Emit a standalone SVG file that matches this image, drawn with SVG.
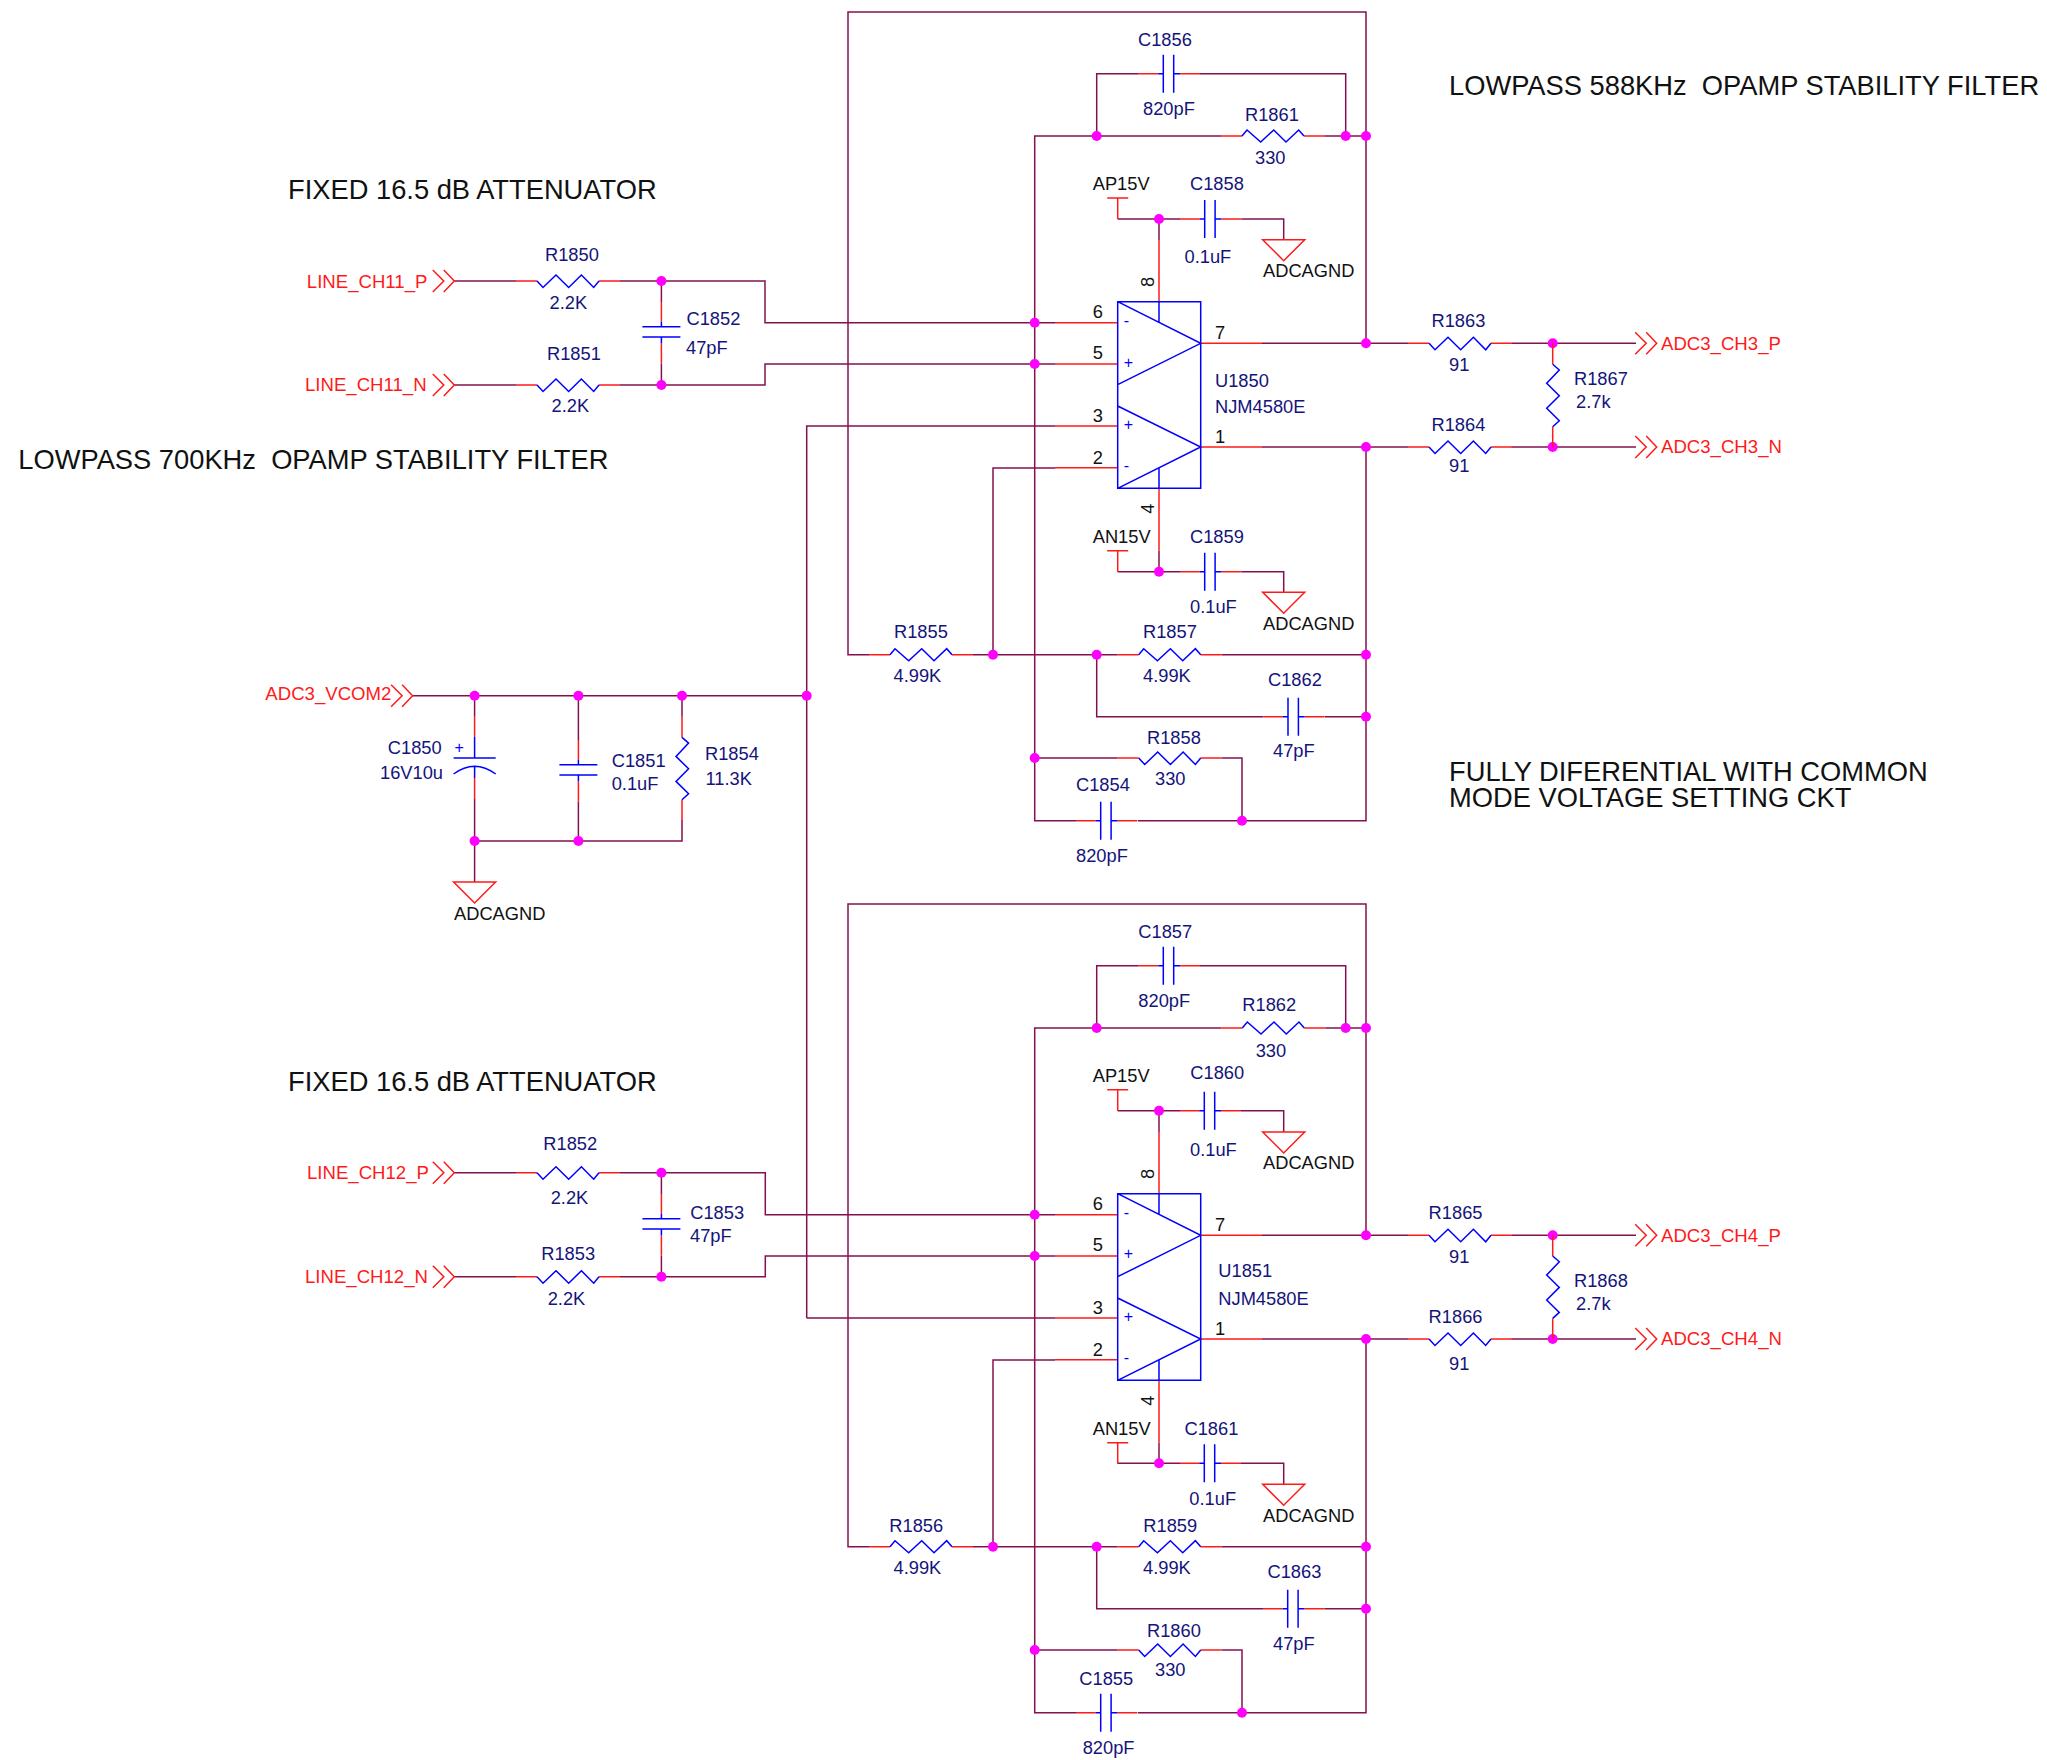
<svg xmlns="http://www.w3.org/2000/svg" xmlns:xlink="http://www.w3.org/1999/xlink" width="2047" height="1760" viewBox="0 0 2047 1760">
<style>
text{font-family:"Liberation Sans",Arial,sans-serif;font-size:18.3px}
.v{fill:#14147a}.k{fill:#111}.n{fill:#ff1a1a;font-size:18.6px}
.t{fill:#111;font-size:27.3px;white-space:pre}
.s{fill:#0000ff;font-size:16px}
.w,.p,.b,.rb{fill:none;stroke-width:1.5}
.w{stroke:#85104f}.p{stroke:#ff1a1a}.b{stroke:#0000ff}
.j{fill:#ff00ff}
</style>
<defs>
<g id="ru"><path class="p" d="M-21 0H0M62 0H83"/><path class="b" d="M0 0L5 -6L18.7 6L31.7 -6L44 6L56.7 -6L62 0"/></g>
<g id="rd"><path class="p" d="M-21 0H0M62 0H83"/><path class="b" d="M0 0L6 6.5L19 -6L31.7 6.5L44.4 -6L56.7 6.5L62 0"/></g>
<g id="rv"><path class="p" d="M0 -21V0M0 62.4V83"/><path class="b" d="M0 0L6.6 5.7L-6 19L6.6 31.4L-6 44L6.6 56.4L0 62.4"/></g>
<g id="ch"><path class="p" d="M-24.7 0H-5M16.7 0H36.7"/><path class="b" d="M-5 0H0M0 -19V19M10.4 -19V19M10.4 0H16.7"/></g>
<g id="cv"><path class="p" d="M0 -24.7V-5M0 16.7V36.7"/><path class="b" d="M0 -5V0M-19 0H19M-19 10.4H19M0 10.4V16.7"/></g>
<path id="gnd" class="p" d="M-21 0H21L0 21Z"/>
<path id="port" class="p" d="M-21.5 -11L-10.5 0L-21.5 11M-10.5 -11L0 0L-10.5 11"/>
<g id="opa">
<path class="p" d="M-62.7 21H0M-62.7 62.3H0M-62.7 124.3H0M-62.7 166H0M83 41.6H144.3M83 145.3H144.3M41.3 0V-61.7M41.3 186.6V249"/>
<path class="b" d="M0 0H83V186.6H0ZM0 0L83 41.6L0 83M0 104.3L83 145.3L0 186.6M41.3 0V21M41.3 166V186.6"/>
</g>
<path id="pwr" class="p" d="M-10.5 0H10.5M0 0V21"/>
</defs>

<g id="connectors">
<path class="w" d="M869 654.7H848V12H1366V343.3M973 654.7H1117.7M993 654.7V468H1055M1221.7 654.7H1366M1366 447V820.7H1138M1076 820.7H1034.7V136H1221M1325 136H1366M1096.7 136V73.7H1138.7M1200 73.7H1345.7V136M1096.7 654.7V716.7H1263.3M1325 716.7H1366M1034.7 758H1117.7M1221.7 758H1242V820.7M454.3 281H516M620 281H765V322.7H1055M454.3 385H516M620 385H765V364H1055M661.4 281V302M661.4 363.4V385M806.7 1318V426H1055M806.7 1318H1055M1262 343.3H1408M1511.7 343.3H1636M1262 447H1408M1511.7 447H1636M1159 219V240M1117.7 219H1180M1241.4 219H1283.7V240M1159 550.7V571.7M1117.7 571.7H1180M1241.4 571.7H1283.7V592.3"/>
<path class="w" d="M412.6 695.7H806.7M474.6 695.7V716.7M474.6 799V882M578.4 695.7V740M578.4 801.4V841M682 695.7V716.7M682 820V841H474.6"/>
<path class="w" d="M869 1546.7H848V904H1366V1235.3M973 1546.7H1117.7M993 1546.7V1360H1055M1221.7 1546.7H1366M1366 1339V1712.7H1138M1076 1712.7H1034.7V1028H1221.3M1325.3 1028H1366M1096.7 1028V965.7H1138.7M1200 965.7H1345.7V1028M1096.7 1546.7V1608.7H1263M1324.4 1608.7H1366M1034.7 1650H1117.7M1221.7 1650H1242V1712.7M454.3 1172.7H516M620 1172.7H765.3V1214.7H1055M454.3 1276.7H516M620 1276.7H765.3V1256H1055M661.4 1172.7V1194M661.4 1255.4V1276.7M1262 1235.3H1408M1511.7 1235.3H1636M1262 1339H1408M1511.7 1339H1636M1159 1111V1132M1117.7 1110.7H1180M1241 1110.7H1283.7V1132M1159 1442.7V1463.3M1117.7 1463.3H1180M1241 1463.3H1283.7V1484.3"/>
<g id="junctions">
<circle class="j" r="5" cx="1096.7" cy="136"/><circle class="j" r="5" cx="1345.7" cy="136"/><circle class="j" r="5" cx="1366" cy="136"/><circle class="j" r="5" cx="661.4" cy="281"/><circle class="j" r="5" cx="661.4" cy="385"/><circle class="j" r="5" cx="1034.7" cy="322.7"/><circle class="j" r="5" cx="1034.7" cy="364"/><circle class="j" r="5" cx="1159" cy="219"/><circle class="j" r="5" cx="1159" cy="571.7"/><circle class="j" r="5" cx="1366" cy="343.3"/><circle class="j" r="5" cx="1366" cy="447"/><circle class="j" r="5" cx="1552.7" cy="343.3"/><circle class="j" r="5" cx="1552.7" cy="447"/><circle class="j" r="5" cx="993" cy="654.7"/><circle class="j" r="5" cx="1096.7" cy="654.7"/><circle class="j" r="5" cx="1366" cy="654.7"/><circle class="j" r="5" cx="1366" cy="716.7"/><circle class="j" r="5" cx="1034.7" cy="758"/><circle class="j" r="5" cx="1242" cy="820.7"/><circle class="j" r="5" cx="474.6" cy="695.7"/><circle class="j" r="5" cx="578.4" cy="695.7"/><circle class="j" r="5" cx="682" cy="695.7"/><circle class="j" r="5" cx="806.7" cy="695.7"/><circle class="j" r="5" cx="474.6" cy="841"/><circle class="j" r="5" cx="578.4" cy="841"/>
<circle class="j" r="5" cx="1096.7" cy="1028"/><circle class="j" r="5" cx="1345.7" cy="1028"/><circle class="j" r="5" cx="1366" cy="1028"/><circle class="j" r="5" cx="661.4" cy="1172.7"/><circle class="j" r="5" cx="661.4" cy="1276.7"/><circle class="j" r="5" cx="1034.7" cy="1214.7"/><circle class="j" r="5" cx="1034.7" cy="1256"/><circle class="j" r="5" cx="1159" cy="1110.7"/><circle class="j" r="5" cx="1159" cy="1463.3"/><circle class="j" r="5" cx="1366" cy="1235.3"/><circle class="j" r="5" cx="1366" cy="1339"/><circle class="j" r="5" cx="1552.7" cy="1235.3"/><circle class="j" r="5" cx="1552.7" cy="1339"/><circle class="j" r="5" cx="993" cy="1546.7"/><circle class="j" r="5" cx="1096.7" cy="1546.7"/><circle class="j" r="5" cx="1366" cy="1546.7"/><circle class="j" r="5" cx="1366" cy="1608.7"/><circle class="j" r="5" cx="1034.7" cy="1650"/><circle class="j" r="5" cx="1242" cy="1712.7"/>
</g>
</g>

<g id="R1850"><use href="#rd" x="537" y="281"/><text class="v" x="545" y="260.7">R1850</text><text class="v" x="549.6" y="309.3">2.2K</text></g>
<g id="R1851"><use href="#rd" x="537" y="385"/><text class="v" x="547" y="360">R1851</text><text class="v" x="551.5" y="412.3">2.2K</text></g>
<g id="R1852"><use href="#rd" x="537" y="1172.7"/><text class="v" x="543.3" y="1150">R1852</text><text class="v" x="550.7" y="1204">2.2K</text></g>
<g id="R1853"><use href="#rd" x="537" y="1276.7"/><text class="v" x="541.2" y="1260">R1853</text><text class="v" x="547.7" y="1305">2.2K</text></g>
<g id="R1854"><use href="#rv" x="682" y="737.4"/><text class="v" x="705" y="760">R1854</text><text class="v" x="705.500" y="785">11.3K</text></g>
<g id="R1855"><use href="#ru" x="890" y="654.7"/><text class="v" x="894" y="637.7">R1855</text><text class="v" x="893.5" y="682.3">4.99K</text></g>
<g id="R1856"><use href="#ru" x="890" y="1546.7"/><text class="v" x="889.3" y="1531.7">R1856</text><text class="v" x="893.5" y="1574">4.99K</text></g>
<g id="R1857"><use href="#ru" x="1138.7" y="654.7"/><text class="v" x="1143" y="638.3">R1857</text><text class="v" x="1143" y="681.7">4.99K</text></g>
<g id="R1858"><use href="#rd" x="1138.7" y="758"/><text class="v" x="1147" y="744">R1858</text><text class="v" x="1155" y="785">330</text></g>
<g id="R1859"><use href="#ru" x="1138.7" y="1546.7"/><text class="v" x="1143.3" y="1531.7">R1859</text><text class="v" x="1143" y="1574">4.99K</text></g>
<g id="R1860"><use href="#rd" x="1138.7" y="1650"/><text class="v" x="1147" y="1636.7">R1860</text><text class="v" x="1155" y="1675.7">330</text></g>
<g id="R1861"><use href="#ru" x="1242" y="136"/><text class="v" x="1245" y="121">R1861</text><text class="v" x="1255" y="163.6">330</text></g>
<g id="R1862"><use href="#ru" x="1242.3" y="1028"/><text class="v" x="1242.3" y="1011">R1862</text><text class="v" x="1255.7" y="1056.7">330</text></g>
<g id="R1863"><use href="#rd" x="1429" y="343.3"/><text class="v" x="1431.5" y="326.7">R1863</text><text class="v" x="1449" y="370.7">91</text></g>
<g id="R1864"><use href="#rd" x="1429" y="447"/><text class="v" x="1431.5" y="430.7">R1864</text><text class="v" x="1449" y="471.7">91</text></g>
<g id="R1865"><use href="#rd" x="1429" y="1235.3"/><text class="v" x="1428.6" y="1219.3">R1865</text><text class="v" x="1449" y="1262.7">91</text></g>
<g id="R1866"><use href="#rd" x="1429" y="1339"/><text class="v" x="1428.6" y="1323">R1866</text><text class="v" x="1449" y="1370">91</text></g>
<g id="R1867"><use href="#rv" x="1552.7" y="364.3"/><text class="v" x="1574" y="385">R1867</text><text class="v" x="1576" y="407.7">2.7k</text></g>
<g id="R1868"><use href="#rv" x="1552.7" y="1256"/><text class="v" x="1574" y="1286.7">R1868</text><text class="v" x="1576" y="1310">2.7k</text></g>

<g id="C1850"><path class="p" d="M474.6 716.7V737M474.6 778V799"/><path class="b" d="M474.6 737V758M453.6 758H495.7M453.6 774Q474.6 758.500 495.700 774M474.6 767V778"/><text class="s" x="454.500" y="753">+</text><text class="v" x="387.8" y="754">C1850</text><text class="v" x="380" y="779.3">16V10u</text></g>
<g id="C1851"><use href="#cv" x="578.4" y="764.7"/><text class="v" x="611.7" y="767.3">C1851</text><text class="v" x="611.7" y="790">0.1uF</text></g>
<g id="C1852"><use href="#cv" x="661.4" y="326.7"/><text class="v" x="686.5" y="325">C1852</text><text class="v" x="686" y="354">47pF</text></g>
<g id="C1853"><use href="#cv" x="661.4" y="1218.7"/><text class="v" x="690.2" y="1219">C1853</text><text class="v" x="690" y="1242.3">47pF</text></g>
<g id="C1854"><use href="#ch" x="1100.7" y="820.7"/><text class="v" x="1076" y="790.7">C1854</text><text class="v" x="1076" y="862">820pF</text></g>
<g id="C1855"><use href="#ch" x="1100.7" y="1712.7"/><text class="v" x="1079.3" y="1685">C1855</text><text class="v" x="1082.7" y="1754">820pF</text></g>
<g id="C1856"><use href="#ch" x="1163.3" y="73.7"/><text class="v" x="1138" y="46">C1856</text><text class="v" x="1143" y="115">820pF</text></g>
<g id="C1857"><use href="#ch" x="1163.3" y="965.7"/><text class="v" x="1138.3" y="937.7">C1857</text><text class="v" x="1138.3" y="1006.7">820pF</text></g>
<g id="C1858"><use href="#ch" x="1204.7" y="219"/><text class="v" x="1190" y="190">C1858</text><text class="v" x="1184.5" y="263">0.1uF</text></g>
<g id="C1859"><use href="#ch" x="1204.7" y="571.7"/><text class="v" x="1190" y="543">C1859</text><text class="v" x="1190" y="613">0.1uF</text></g>
<g id="C1860"><use href="#ch" x="1204.300" y="1110.7"/><text class="v" x="1190.3" y="1079.3">C1860</text><text class="v" x="1190" y="1156">0.1uF</text></g>
<g id="C1861"><use href="#ch" x="1204.300" y="1463.3"/><text class="v" x="1184.5" y="1435">C1861</text><text class="v" x="1189.3" y="1505">0.1uF</text></g>
<g id="C1862"><use href="#ch" x="1288" y="716.7"/><text class="v" x="1268" y="686">C1862</text><text class="v" x="1273" y="757">47pF</text></g>
<g id="C1863"><use href="#ch" x="1287.7" y="1608.7"/><text class="v" x="1267.5" y="1577.7">C1863</text><text class="v" x="1273" y="1650">47pF</text></g>

<g id="U1850"><use href="#opa" x="1117.7" y="301.7"/>
<text class="s" x="1123.7" y="326.3">-</text><text class="s" x="1123.7" y="367.5">+</text><text class="s" x="1123.7" y="429.5">+</text><text class="s" x="1123.7" y="471.3">-</text>
<text class="k" x="1092.7" y="317.5">6</text><text class="k" x="1092.7" y="359.2">5</text><text class="k" x="1092.7" y="421.7">3</text><text class="k" x="1092.7" y="463.5">2</text><text class="k" x="1215" y="338.7">7</text><text class="k" x="1215" y="442.7">1</text>
<text class="k" text-anchor="middle" transform="translate(1154 282) rotate(-90)">8</text><text class="k" text-anchor="middle" transform="translate(1154 508.700) rotate(-90)">4</text>
<text class="v" x="1215" y="387.2">U1850</text><text class="v" x="1215" y="413">NJM4580E</text></g>
<g id="U1851"><use href="#opa" x="1117.7" y="1193.7"/>
<text class="s" x="1123.7" y="1218.3">-</text><text class="s" x="1123.7" y="1259">+</text><text class="s" x="1123.7" y="1321.500">+</text><text class="s" x="1123.7" y="1363.3">-</text>
<text class="k" x="1092.7" y="1209.5">6</text><text class="k" x="1092.7" y="1251.2">5</text><text class="k" x="1092.7" y="1313.8">3</text><text class="k" x="1092.7" y="1355.7">2</text><text class="k" x="1215" y="1230.7">7</text><text class="k" x="1215" y="1335">1</text>
<text class="k" text-anchor="middle" transform="translate(1154 1174) rotate(-90)">8</text><text class="k" text-anchor="middle" transform="translate(1154 1400.7) rotate(-90)">4</text>
<text class="v" x="1218.3" y="1276.7">U1851</text><text class="v" x="1218.3" y="1305">NJM4580E</text></g>

<g id="AP15V-1"><use href="#pwr" x="1117.7" y="198"/><text class="k" x="1092.7" y="190">AP15V</text></g>
<g id="AN15V-1"><use href="#pwr" x="1117.7" y="550.7"/><text class="k" x="1092.7" y="543.3">AN15V</text></g>
<g id="AP15V-2"><use href="#pwr" x="1117.7" y="1089.7"/><text class="k" x="1092.7" y="1081.7">AP15V</text></g>
<g id="AN15V-2"><use href="#pwr" x="1117.7" y="1442.7"/><text class="k" x="1092.7" y="1435">AN15V</text></g>

<g id="GND-1"><use href="#gnd" x="1283.7" y="239.7"/><text class="k" x="1263" y="277">ADCAGND</text></g>
<g id="GND-2"><use href="#gnd" x="1283.7" y="592.3"/><text class="k" x="1263" y="630">ADCAGND</text></g>
<g id="GND-3"><use href="#gnd" x="1283.7" y="1132"/><text class="k" x="1263" y="1168.7">ADCAGND</text></g>
<g id="GND-4"><use href="#gnd" x="1283.7" y="1484.300"/><text class="k" x="1263" y="1521.7">ADCAGND</text></g>
<g id="GND-5"><use href="#gnd" x="474.6" y="882"/><text class="k" x="454" y="920">ADCAGND</text></g>

<g id="LINE_CH11_P"><use href="#port" x="454.3" y="281"/><text class="n" x="306.8" y="288.3">LINE_CH11_P</text></g>
<g id="LINE_CH11_N"><use href="#port" x="454.3" y="385"/><text class="n" x="305" y="391">LINE_CH11_N</text></g>
<g id="LINE_CH12_P"><use href="#port" x="454.3" y="1172.7"/><text class="n" x="307" y="1179.3">LINE_CH12_P</text></g>
<g id="LINE_CH12_N"><use href="#port" x="454.3" y="1276.7"/><text class="n" x="305" y="1283.3">LINE_CH12_N</text></g>
<g id="ADC3_VCOM2"><use href="#port" x="412.6" y="695.7"/><text class="n" x="265.3" y="700">ADC3_VCOM2</text></g>
<g id="ADC3_CH3_P"><use href="#port" x="1656.7" y="343.3"/><text class="n" x="1661" y="350">ADC3_CH3_P</text></g>
<g id="ADC3_CH3_N"><use href="#port" x="1656.7" y="447"/><text class="n" x="1661" y="453">ADC3_CH3_N</text></g>
<g id="ADC3_CH4_P"><use href="#port" x="1656.7" y="1235.3"/><text class="n" x="1661" y="1241.7">ADC3_CH4_P</text></g>
<g id="ADC3_CH4_N"><use href="#port" x="1656.7" y="1339"/><text class="n" x="1661" y="1345">ADC3_CH4_N</text></g>

<g id="notes">
<text class="t" x="1449" y="95" xml:space="preserve">LOWPASS 588KHz  OPAMP STABILITY FILTER</text>
<text class="t" x="288" y="199.4">FIXED 16.5 dB ATTENUATOR</text>
<text class="t" x="18.3" y="468.7" xml:space="preserve">LOWPASS 700KHz  OPAMP STABILITY FILTER</text>
<text class="t" x="1449" y="780.7">FULLY DIFERENTIAL WITH COMMON</text>
<text class="t" x="1449" y="806.8">MODE VOLTAGE SETTING CKT</text>
<text class="t" x="288" y="1091.4">FIXED 16.5 dB ATTENUATOR</text>
</g>
</svg>
